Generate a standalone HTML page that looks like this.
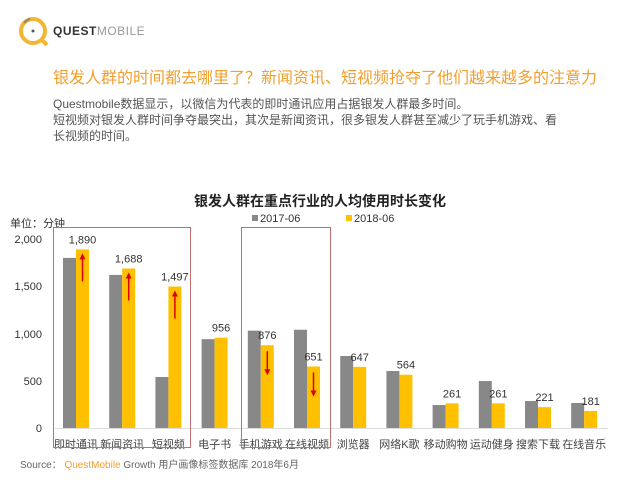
<!DOCTYPE html>
<html><head><meta charset="utf-8"><style>
body{margin:0;width:640px;height:480px;background:#fff;overflow:hidden;font-family:"Liberation Sans","Noto Sans CJK SC",sans-serif;position:relative}
.a{position:absolute;white-space:nowrap}
</style></head><body>
<svg class="a" style="left:16px;top:14px" width="34" height="34" viewBox="0 0 34 34">
<circle cx="17" cy="17" r="12" fill="none" stroke="#f2b632" stroke-width="4"/>
<path d="M26 26 L31 31" stroke="#f2b632" stroke-width="4"/>
<circle cx="17" cy="17" r="1.5" fill="#555"/>
<path d="M8 9 A12 12 0 0 1 14 5" stroke="#888" stroke-width="2" fill="none"/>
</svg>
<div class="a" style="left:53px;top:24px;font-size:12px;letter-spacing:0.5px;color:#333"><b>QUEST</b><span style="color:#999">MOBILE</span></div>
<div class="a" style="left:53px;top:64px;font-size:16px;color:#f0a030">银发人群的时间都去哪里了？新闻资讯、短视频抢夺了他们越来越多的注意力</div>
<div class="a" style="left:53px;top:96px;font-size:12px;line-height:16px;color:#555">Questmobile数据显示，以微信为代表的即时通讯应用占据银发人群最多时间。<br>短视频对银发人群时间争夺最突出，其次是新闻资讯，很多银发人群甚至减少了玩手机游戏、看<br>长视频的时间。</div>
<svg class="a" style="left:0;top:0" width="640" height="480" font-family="Liberation Sans, Noto Sans CJK SC, sans-serif">
<text x="320" y="206" font-size="14" font-weight="bold" text-anchor="middle" fill="#222">银发人群在重点行业的人均使用时长变化</text>
<rect x="252" y="215" width="6" height="6" fill="#888"/><text x="260" y="222" font-size="11" fill="#333">2017-06</text>
<rect x="346" y="215" width="6" height="6" fill="#ffc000"/><text x="354" y="222" font-size="11" fill="#333">2018-06</text>
<text x="10" y="227" font-size="11" fill="#333">单位：分钟</text>
<g font-size="11" fill="#333" text-anchor="end">
<text x="42" y="243">2,000</text><text x="42" y="290">1,500</text><text x="42" y="338">1,000</text><text x="42" y="385">500</text><text x="42" y="432">0</text>
</g>
<line x1="55" y1="428.5" x2="608" y2="428.5" stroke="#ddd"/>
<g id="bars"></g>
<rect x="53.5" y="227.5" width="137" height="220" fill="none" stroke="#c07070" stroke-width="1"/>
<rect x="241.5" y="227.5" width="89" height="220" fill="none" stroke="#c07070" stroke-width="1"/>
<text x="20" y="468" font-size="10" fill="#666">Source：  <tspan fill="#f0a030">QuestMobile</tspan> Growth 用户画像标签数据库 2018年6月</text>
</svg>
<script>
var d=[["即时通讯",1800,1890],["新闻资讯",1620,1688],["短视频",540,1497],["电子书",940,956],["手机游戏",1030,876],["在线视频",1040,651],["浏览器",762,647],["网络K歌",603,564],["移动购物",243,261],["运动健身",497,261],["搜索下载",286,221],["在线音乐",265,181]];
var s="",k=0.0945,b=428;
d.forEach(function(e,i){var c=76+i*46.2;
var h1=e[1]*k,h2=e[2]*k;
s+='<rect x="'+(c-13)+'" y="'+(b-h1)+'" width="13" height="'+h1+'" fill="#888"/>';
s+='<rect x="'+c+'" y="'+(b-h2)+'" width="13" height="'+h2+'" fill="#ffc000"/>';
s+='<text x="'+(c+6.5)+'" y="'+(b-h2-6)+'" font-size="11" text-anchor="middle" fill="#333">'+e[2].toLocaleString("en-US")+'</text>';
s+='<text x="'+c+'" y="448" font-size="11" text-anchor="middle" fill="#444">'+e[0]+'</text>';
if(i<3){var t=b-h2+4,bt=t+28;s+='<line x1="'+(c+6.5)+'" y1="'+bt+'" x2="'+(c+6.5)+'" y2="'+(t+5)+'" stroke="#d00" stroke-width="1.5"/><path d="M'+(c+3.5)+' '+(t+6)+' L'+(c+6.5)+' '+t+' L'+(c+9.5)+' '+(t+6)+'Z" fill="#d00"/>';}
if(i==4||i==5){var t=b-h2+6,bt=t+24;s+='<line x1="'+(c+6.5)+'" y1="'+t+'" x2="'+(c+6.5)+'" y2="'+(bt-5)+'" stroke="#d00" stroke-width="1.5"/><path d="M'+(c+3.5)+' '+(bt-6)+' L'+(c+6.5)+' '+bt+' L'+(c+9.5)+' '+(bt-6)+'Z" fill="#d00"/>';}
});
document.getElementById("bars").innerHTML=s;
</script>
</body></html>
